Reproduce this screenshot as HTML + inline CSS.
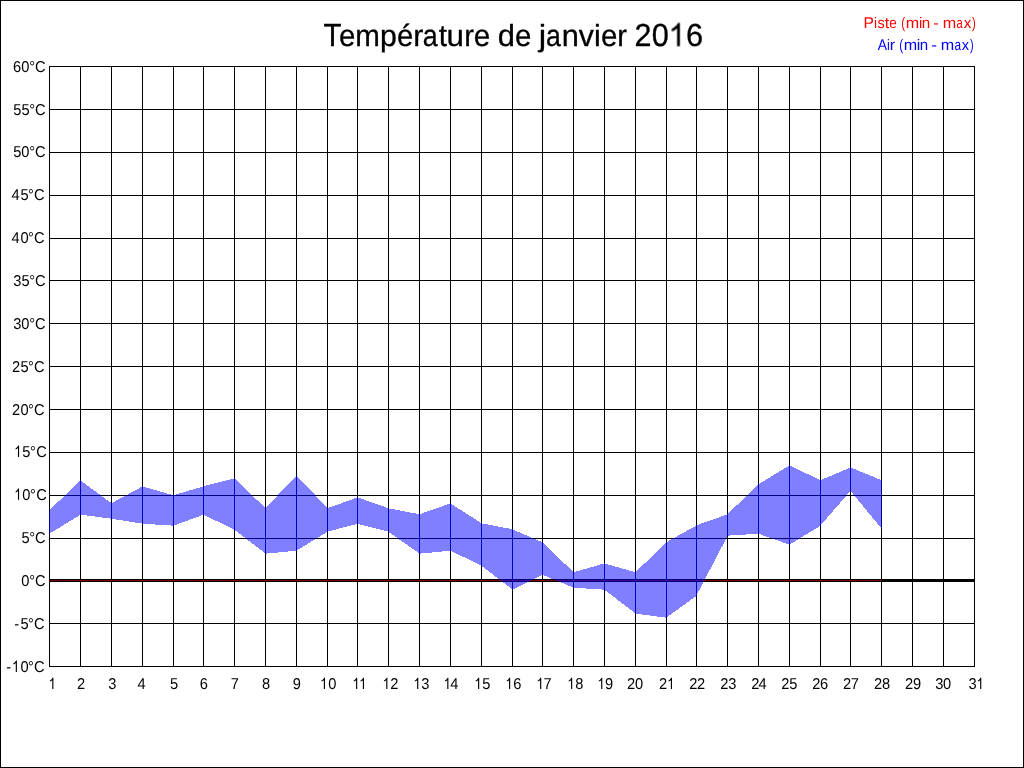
<!DOCTYPE html>
<html><head><meta charset="utf-8"><style>
html,body{margin:0;padding:0;background:#fff;}
body{width:1024px;height:768px;overflow:hidden;}
svg{display:block;}
text{font-family:"Liberation Sans",sans-serif;font-size:14.667px;fill:#000;text-rendering:geometricPrecision;font-kerning:none;}
</style></head><body>
<svg width="1024" height="768" viewBox="0 0 1024 768" xmlns="http://www.w3.org/2000/svg">
<rect x="0" y="0" width="1024" height="768" fill="#fff"/>
<rect x="0.5" y="0.5" width="1023" height="767" fill="none" stroke="#000" stroke-width="1"/>
<g fill="#000" shape-rendering="crispEdges">
<rect x="49" y="66" width="926" height="1"/>
<rect x="49" y="109" width="926" height="1"/>
<rect x="49" y="152" width="926" height="1"/>
<rect x="49" y="195" width="926" height="1"/>
<rect x="49" y="238" width="926" height="1"/>
<rect x="49" y="280" width="926" height="1"/>
<rect x="49" y="323" width="926" height="1"/>
<rect x="49" y="366" width="926" height="1"/>
<rect x="49" y="409" width="926" height="1"/>
<rect x="49" y="452" width="926" height="1"/>
<rect x="49" y="495" width="926" height="1"/>
<rect x="49" y="538" width="926" height="1"/>
<rect x="49" y="580" width="926" height="1"/>
<rect x="49" y="623" width="926" height="1"/>
<rect x="49" y="666" width="926" height="1"/>
<rect x="49" y="66" width="1" height="601"/>
<rect x="80" y="66" width="1" height="601"/>
<rect x="111" y="66" width="1" height="601"/>
<rect x="142" y="66" width="1" height="601"/>
<rect x="173" y="66" width="1" height="601"/>
<rect x="203" y="66" width="1" height="601"/>
<rect x="234" y="66" width="1" height="601"/>
<rect x="265" y="66" width="1" height="601"/>
<rect x="296" y="66" width="1" height="601"/>
<rect x="327" y="66" width="1" height="601"/>
<rect x="357" y="66" width="1" height="601"/>
<rect x="388" y="66" width="1" height="601"/>
<rect x="419" y="66" width="1" height="601"/>
<rect x="450" y="66" width="1" height="601"/>
<rect x="481" y="66" width="1" height="601"/>
<rect x="512" y="66" width="1" height="601"/>
<rect x="542" y="66" width="1" height="601"/>
<rect x="573" y="66" width="1" height="601"/>
<rect x="604" y="66" width="1" height="601"/>
<rect x="635" y="66" width="1" height="601"/>
<rect x="666" y="66" width="1" height="601"/>
<rect x="696" y="66" width="1" height="601"/>
<rect x="727" y="66" width="1" height="601"/>
<rect x="758" y="66" width="1" height="601"/>
<rect x="789" y="66" width="1" height="601"/>
<rect x="820" y="66" width="1" height="601"/>
<rect x="850" y="66" width="1" height="601"/>
<rect x="881" y="66" width="1" height="601"/>
<rect x="912" y="66" width="1" height="601"/>
<rect x="943" y="66" width="1" height="601"/>
<rect x="974" y="66" width="1" height="601"/>
<rect x="49" y="579" width="926" height="3"/>
</g>
<g fill="#f00" fill-opacity="0.5" shape-rendering="crispEdges">
<rect x="49" y="580" width="32" height="1"/>
<rect x="80" y="580" width="32" height="1"/>
<rect x="111" y="580" width="32" height="1"/>
<rect x="142" y="580" width="32" height="1"/>
<rect x="173" y="580" width="31" height="1"/>
<rect x="203" y="580" width="32" height="1"/>
<rect x="234" y="580" width="32" height="1"/>
<rect x="265" y="580" width="32" height="1"/>
<rect x="296" y="580" width="32" height="1"/>
<rect x="327" y="580" width="31" height="1"/>
<rect x="357" y="580" width="32" height="1"/>
<rect x="388" y="580" width="32" height="1"/>
<rect x="419" y="580" width="32" height="1"/>
<rect x="450" y="580" width="32" height="1"/>
<rect x="481" y="580" width="32" height="1"/>
<rect x="512" y="580" width="31" height="1"/>
<rect x="542" y="580" width="32" height="1"/>
<rect x="573" y="580" width="32" height="1"/>
<rect x="604" y="580" width="32" height="1"/>
<rect x="635" y="580" width="32" height="1"/>
<rect x="666" y="580" width="31" height="1"/>
<rect x="696" y="580" width="32" height="1"/>
<rect x="727" y="580" width="32" height="1"/>
<rect x="758" y="580" width="32" height="1"/>
<rect x="789" y="580" width="32" height="1"/>
<rect x="820" y="580" width="31" height="1"/>
<rect x="850" y="580" width="32" height="1"/>
</g>
<g fill="#00f" fill-opacity="0.5" shape-rendering="crispEdges">
<polygon points="49.3,510.3 80.7,480.3 80.7,514.7 49.3,533.7"/>
<polygon points="80.3,480.3 111.7,503.3 111.7,518.7 80.3,514.7"/>
<polygon points="111.3,503.3 142.7,486.3 142.7,523.7 111.3,518.7"/>
<polygon points="142.3,486.3 173.7,495.3 173.7,525.7 142.3,523.7"/>
<polygon points="173.3,495.3 203.7,486.3 203.7,514.7 173.3,525.7"/>
<polygon points="203.3,486.3 234.7,478.3 234.7,529.7 203.3,514.7"/>
<polygon points="234.3,478.3 265.7,508.3 265.7,553.7 234.3,529.7"/>
<polygon points="265.3,508.3 296.7,475.3 296.7,550.7 265.3,553.7"/>
<polygon points="296.3,475.3 327.7,508.3 327.7,531.7 296.3,550.7"/>
<polygon points="327.3,508.3 357.7,497.3 357.7,523.7 327.3,531.7"/>
<polygon points="357.3,497.3 388.7,508.3 388.7,531.7 357.3,523.7"/>
<polygon points="388.3,508.3 419.7,514.3 419.7,553.7 388.3,531.7"/>
<polygon points="419.3,514.3 450.7,503.3 450.7,550.7 419.3,553.7"/>
<polygon points="450.3,503.3 481.7,523.3 481.7,565.7 450.3,550.7"/>
<polygon points="481.3,523.3 512.7,529.3 512.7,589.7 481.3,565.7"/>
<polygon points="512.3,529.3 542.7,542.3 542.7,574.7 512.3,589.7"/>
<polygon points="542.3,542.3 573.7,572.3 573.7,587.7 542.3,574.7"/>
<polygon points="573.3,572.3 604.7,563.3 604.7,589.7 573.3,587.7"/>
<polygon points="604.3,563.3 635.7,572.3 635.7,613.7 604.3,589.7"/>
<polygon points="635.3,572.3 666.7,542.3 666.7,617.7 635.3,613.7"/>
<polygon points="666.3,542.3 696.7,525.3 696.7,595.7 666.3,617.7"/>
<polygon points="696.3,525.3 727.7,514.3 727.7,535.7 696.3,595.7"/>
<polygon points="727.3,514.3 758.7,484.3 758.7,533.7 727.3,535.7"/>
<polygon points="758.3,484.3 789.7,465.3 789.7,544.7 758.3,533.7"/>
<polygon points="789.3,465.3 820.7,480.3 820.7,525.7 789.3,544.7"/>
<polygon points="820.3,480.3 850.7,467.3 850.7,490.7 820.3,525.7"/>
<polygon points="850.3,467.3 881.7,480.3 881.7,528.7 850.3,490.7"/>
</g>
<g style="will-change:transform" fill="#000">
<text x="13.06 21.23 29.13 35.06" transform="translate(0,71.9) scale(1,1.074)">60°C</text>
<text x="13.21 21.46 29.13 35.06" transform="translate(0,114.8) scale(1,1.074)">55°C</text>
<text x="13.21 21.23 29.13 35.06" transform="translate(0,156.8) scale(1,1.074)">50°C</text>
<text x="11.61 20.41 28.03 33.96" transform="translate(0,199.9) scale(1,1.074)">45°C</text>
<text x="11.61 20.43 28.03 33.96" transform="translate(0,242.9) scale(1,1.074)">40°C</text>
<text x="13.24 21.46 29.13 35.06" transform="translate(0,285.9) scale(1,1.074)">35°C</text>
<text x="13.24 21.23 29.13 35.06" transform="translate(0,328.9) scale(1,1.074)">30°C</text>
<text x="12.06 20.41 28.03 33.96" transform="translate(0,371.9) scale(1,1.074)">25°C</text>
<text x="12.06 20.43 28.03 33.96" transform="translate(0,414.9) scale(1,1.074)">20°C</text>
<path d="M763 0L603 0L603 1147Q540 1090 440 1030Q350 975 280 950L280 1110Q410 1180 500 1275Q600 1377 647 1472L763 1472Z" transform="translate(13.64,456.9) scale(0.007162,-0.007692)"/>
<text x="22.31 30.03 36.16" transform="translate(0,456.9) scale(1,1.074)">5°C</text>
<path d="M763 0L603 0L603 1147Q540 1090 440 1030Q350 975 280 950L280 1110Q410 1180 500 1275Q600 1377 647 1472L763 1472Z" transform="translate(13.64,499.85) scale(0.007162,-0.007692)"/>
<text x="22.33 30.03 36.16" transform="translate(0,499.85) scale(1,1.074)">0°C</text>
<text x="21.46 29.13 35.06" transform="translate(0,542.9) scale(1,1.074)">5°C</text>
<text x="21.23 29.13 35.06" transform="translate(0,585.9) scale(1,1.074)">0°C</text>
<text x="14.31 20.41 28.03 33.96" transform="translate(0,628.8) scale(1,1.074)">-5°C</text>
<path d="M763 0L603 0L603 1147Q540 1090 440 1030Q350 975 280 950L280 1110Q410 1180 500 1275Q600 1377 647 1472L763 1472Z" transform="translate(11.44,671.9) scale(0.007162,-0.007692)"/>
<text x="6.25 20.43 28.03 33.96" transform="translate(0,671.9) scale(1,1.074)">-0°C</text>
<path d="M763 0L603 0L603 1147Q540 1090 440 1030Q350 975 280 950L280 1110Q410 1180 500 1275Q600 1377 647 1472L763 1472Z" transform="translate(47.94,689) scale(0.007162,-0.007692)"/>
<text x="" transform="translate(0,689) scale(1,1.074)"></text>
<text x="77.01" transform="translate(0,689) scale(1,1.074)">2</text>
<text x="108.24" transform="translate(0,689) scale(1,1.074)">3</text>
<text x="137.56" transform="translate(0,689) scale(1,1.074)">4</text>
<text x="170.01" transform="translate(0,689) scale(1,1.074)">5</text>
<text x="199.86" transform="translate(0,689) scale(1,1.074)">6</text>
<text x="230.85" transform="translate(0,689) scale(1,1.074)">7</text>
<text x="262.11" transform="translate(0,689) scale(1,1.074)">8</text>
<text x="292.81" transform="translate(0,689) scale(1,1.074)">9</text>
<path d="M763 0L603 0L603 1147Q540 1090 440 1030Q350 975 280 950L280 1110Q410 1180 500 1275Q600 1377 647 1472L763 1472Z" transform="translate(319.54,689) scale(0.007162,-0.007692)"/>
<text x="328.33" transform="translate(0,689) scale(1,1.074)">0</text>
<path d="M763 0L603 0L603 1147Q540 1090 440 1030Q350 975 280 950L280 1110Q410 1180 500 1275Q600 1377 647 1472L763 1472Z" transform="translate(351.74,689) scale(0.007162,-0.007692)"/>
<path d="M763 0L603 0L603 1147Q540 1090 440 1030Q350 975 280 950L280 1110Q410 1180 500 1275Q600 1377 647 1472L763 1472Z" transform="translate(358.54,689) scale(0.007162,-0.007692)"/>
<text x="" transform="translate(0,689) scale(1,1.074)"></text>
<path d="M763 0L603 0L603 1147Q540 1090 440 1030Q350 975 280 950L280 1110Q410 1180 500 1275Q600 1377 647 1472L763 1472Z" transform="translate(381.94,689) scale(0.007162,-0.007692)"/>
<text x="390.16" transform="translate(0,689) scale(1,1.074)">2</text>
<path d="M763 0L603 0L603 1147Q540 1090 440 1030Q350 975 280 950L280 1110Q410 1180 500 1275Q600 1377 647 1472L763 1472Z" transform="translate(412.84,689) scale(0.007162,-0.007692)"/>
<text x="421.24" transform="translate(0,689) scale(1,1.074)">3</text>
<path d="M763 0L603 0L603 1147Q540 1090 440 1030Q350 975 280 950L280 1110Q410 1180 500 1275Q600 1377 647 1472L763 1472Z" transform="translate(442.94,689) scale(0.007162,-0.007692)"/>
<text x="450.36" transform="translate(0,689) scale(1,1.074)">4</text>
<path d="M763 0L603 0L603 1147Q540 1090 440 1030Q350 975 280 950L280 1110Q410 1180 500 1275Q600 1377 647 1472L763 1472Z" transform="translate(473.74,689) scale(0.007162,-0.007692)"/>
<text x="482.31" transform="translate(0,689) scale(1,1.074)">5</text>
<path d="M763 0L603 0L603 1147Q540 1090 440 1030Q350 975 280 950L280 1110Q410 1180 500 1275Q600 1377 647 1472L763 1472Z" transform="translate(504.74,689) scale(0.007162,-0.007692)"/>
<text x="513.36" transform="translate(0,689) scale(1,1.074)">6</text>
<path d="M763 0L603 0L603 1147Q540 1090 440 1030Q350 975 280 950L280 1110Q410 1180 500 1275Q600 1377 647 1472L763 1472Z" transform="translate(535.79,689) scale(0.007162,-0.007692)"/>
<text x="543.55" transform="translate(0,689) scale(1,1.074)">7</text>
<path d="M763 0L603 0L603 1147Q540 1090 440 1030Q350 975 280 950L280 1110Q410 1180 500 1275Q600 1377 647 1472L763 1472Z" transform="translate(566.74,689) scale(0.007162,-0.007692)"/>
<text x="575.26" transform="translate(0,689) scale(1,1.074)">8</text>
<path d="M763 0L603 0L603 1147Q540 1090 440 1030Q350 975 280 950L280 1110Q410 1180 500 1275Q600 1377 647 1472L763 1472Z" transform="translate(596.84,689) scale(0.007162,-0.007692)"/>
<text x="604.91" transform="translate(0,689) scale(1,1.074)">9</text>
<text x="627.06 635.03" transform="translate(0,689) scale(1,1.074)">20</text>
<path d="M763 0L603 0L603 1147Q540 1090 440 1030Q350 975 280 950L280 1110Q410 1180 500 1275Q600 1377 647 1472L763 1472Z" transform="translate(666.54,689) scale(0.007162,-0.007692)"/>
<text x="659.06" transform="translate(0,689) scale(1,1.074)">2</text>
<text x="689.16 696.96" transform="translate(0,689) scale(1,1.074)">22</text>
<text x="720.26 728.24" transform="translate(0,689) scale(1,1.074)">23</text>
<text x="751.16 758.56" transform="translate(0,689) scale(1,1.074)">24</text>
<text x="781.26 789.21" transform="translate(0,689) scale(1,1.074)">25</text>
<text x="812.26 819.96" transform="translate(0,689) scale(1,1.074)">26</text>
<text x="843.06 850.85" transform="translate(0,689) scale(1,1.074)">27</text>
<text x="874.06 881.96" transform="translate(0,689) scale(1,1.074)">28</text>
<text x="904.96 912.91" transform="translate(0,689) scale(1,1.074)">29</text>
<text x="935.34 942.93" transform="translate(0,689) scale(1,1.074)">30</text>
<path d="M763 0L603 0L603 1147Q540 1090 440 1030Q350 975 280 950L280 1110Q410 1180 500 1275Q600 1377 647 1472L763 1472Z" transform="translate(975.84,689) scale(0.007162,-0.007692)"/>
<text x="968.44" transform="translate(0,689) scale(1,1.074)">3</text>
<path d="M763 0L583 0L583 1147Q518 1085 412 1023Q307 961 223 930L223 1104Q374 1175 487 1276Q600 1377 647 1472L763 1472Z" transform="translate(668.68,46) scale(0.014590,-0.015611)" style="stroke:#000;stroke-width:0.3px" vector-effect="non-scaling-stroke"/>
<text transform="translate(323.49,46) scale(0.9885,1.07)" style="font-size:29.88px;stroke:#000;stroke-width:0.3px">T</text>
<text transform="translate(338.9,46) scale(0.9842,1.02)" style="font-size:29.88px;stroke:#000;stroke-width:0.3px">e</text>
<text transform="translate(355.19,46) scale(0.9887,1.02)" style="font-size:29.88px;stroke:#000;stroke-width:0.3px">m</text>
<text transform="translate(380.1,46) scale(1.0121,1.02)" style="font-size:29.88px;stroke:#000;stroke-width:0.3px">p</text>
<text transform="translate(396.91,46) scale(0.9771,1.02)" style="font-size:29.88px;stroke:#000;stroke-width:0.3px">é</text>
<text transform="translate(413.13,46) scale(1.0174,1.02)" style="font-size:29.88px;stroke:#000;stroke-width:0.3px">r</text>
<text transform="translate(422.81,46) scale(0.8991,1.02)" style="font-size:29.88px;stroke:#000;stroke-width:0.3px">a</text>
<text transform="translate(438.7,46) scale(0.9960,1.02)" style="font-size:29.88px;stroke:#000;stroke-width:0.3px">t</text>
<text transform="translate(446.52,46) scale(1.0478,1.02)" style="font-size:29.88px;stroke:#000;stroke-width:0.3px">u</text>
<text transform="translate(464.21,46) scale(0.9772,1.02)" style="font-size:29.88px;stroke:#000;stroke-width:0.3px">r</text>
<text transform="translate(473.69,46) scale(0.9914,1.02)" style="font-size:29.88px;stroke:#000;stroke-width:0.3px">e</text>
<text transform="translate(497.75,46) scale(1.0344,1.02)" style="font-size:29.88px;stroke:#000;stroke-width:0.3px">d</text>
<text transform="translate(514.9,46) scale(0.9842,1.02)" style="font-size:29.88px;stroke:#000;stroke-width:0.3px">e</text>
<text transform="translate(538.87,46) scale(1.1206,1.02)" style="font-size:29.88px;stroke:#000;stroke-width:0.3px">j</text>
<text transform="translate(545.92,46) scale(0.8926,1.02)" style="font-size:29.88px;stroke:#000;stroke-width:0.3px">a</text>
<text transform="translate(561.7,46) scale(1.0321,1.02)" style="font-size:29.88px;stroke:#000;stroke-width:0.3px">n</text>
<text transform="translate(578.75,46) scale(1.0111,1.02)" style="font-size:29.88px;stroke:#000;stroke-width:0.3px">v</text>
<text transform="translate(594.1,46) scale(1.0281,1.02)" style="font-size:29.88px;stroke:#000;stroke-width:0.3px">i</text>
<text transform="translate(600.9,46) scale(0.9842,1.02)" style="font-size:29.88px;stroke:#000;stroke-width:0.3px">e</text>
<text transform="translate(617.21,46) scale(0.9772,1.02)" style="font-size:29.88px;stroke:#000;stroke-width:0.3px">r</text>
<text transform="translate(634.52,46) scale(1.0211,1.07)" style="font-size:29.88px;stroke:#000;stroke-width:0.3px">2</text>
<text transform="translate(651.85,46) scale(1.0292,1.07)" style="font-size:29.88px;stroke:#000;stroke-width:0.3px">0</text>
<text transform="translate(685.99,46) scale(1.0299,1.07)" style="font-size:29.88px;stroke:#000;stroke-width:0.3px">6</text>
<text transform="translate(863.52,28) scale(1.0633,1.07)" style="font-size:14.667px;fill:#f00">P</text>
<text transform="translate(873.99,28) scale(0.9309,1.045)" style="font-size:14.667px;fill:#f00">i</text>
<text transform="translate(877.4,28) scale(0.9851,1.045)" style="font-size:14.667px;fill:#f00">s</text>
<text transform="translate(884.66,28) scale(1.0946,1.045)" style="font-size:14.667px;fill:#f00">t</text>
<text transform="translate(889.33,28) scale(0.9154,1.045)" style="font-size:14.667px;fill:#f00">e</text>
<text transform="translate(901.17,28) scale(0.7972,1.045)" style="font-size:14.667px;fill:#f00">(</text>
<text transform="translate(905.73,28) scale(1.0996,1.045)" style="font-size:14.667px;fill:#f00">m</text>
<text transform="translate(918.91,28) scale(1.0085,1.045)" style="font-size:14.667px;fill:#f00">i</text>
<text transform="translate(921.79,28) scale(1.0352,1.045)" style="font-size:14.667px;fill:#f00">n</text>
<text transform="translate(933.27,28) scale(1.1171,1.045)" style="font-size:14.667px;fill:#f00">-</text>
<text transform="translate(942.73,28) scale(1.0996,1.045)" style="font-size:14.667px;fill:#f00">m</text>
<text transform="translate(956.52,28) scale(0.7698,1.045)" style="font-size:14.667px;fill:#f00">a</text>
<text transform="translate(963.83,28) scale(1.0341,1.045)" style="font-size:14.667px;fill:#f00">x</text>
<text transform="translate(971.93,28) scale(0.7715,1.045)" style="font-size:14.667px;fill:#f00">)</text>
<text transform="translate(877.87,50) scale(0.9460,1.07)" style="font-size:14.667px;fill:#00f">A</text>
<text transform="translate(887.06,50) scale(0.8533,1.045)" style="font-size:14.667px;fill:#00f">i</text>
<text transform="translate(889.84,50) scale(1.0909,1.045)" style="font-size:14.667px;fill:#00f">r</text>
<text transform="translate(899.27,50) scale(0.7972,1.045)" style="font-size:14.667px;fill:#00f">(</text>
<text transform="translate(903.73,50) scale(1.0996,1.045)" style="font-size:14.667px;fill:#00f">m</text>
<text transform="translate(916.73,50) scale(1.0860,1.045)" style="font-size:14.667px;fill:#00f">i</text>
<text transform="translate(919.8,50) scale(1.0272,1.045)" style="font-size:14.667px;fill:#00f">n</text>
<text transform="translate(931.14,50) scale(1.1729,1.045)" style="font-size:14.667px;fill:#00f">-</text>
<text transform="translate(940.83,50) scale(1.0996,1.045)" style="font-size:14.667px;fill:#00f">m</text>
<text transform="translate(954.4,50) scale(0.8097,1.045)" style="font-size:14.667px;fill:#00f">a</text>
<text transform="translate(961.84,50) scale(0.9984,1.045)" style="font-size:14.667px;fill:#00f">x</text>
<text transform="translate(969.94,50) scale(0.7457,1.045)" style="font-size:14.667px;fill:#00f">)</text>
</g>
</svg>
</body></html>
